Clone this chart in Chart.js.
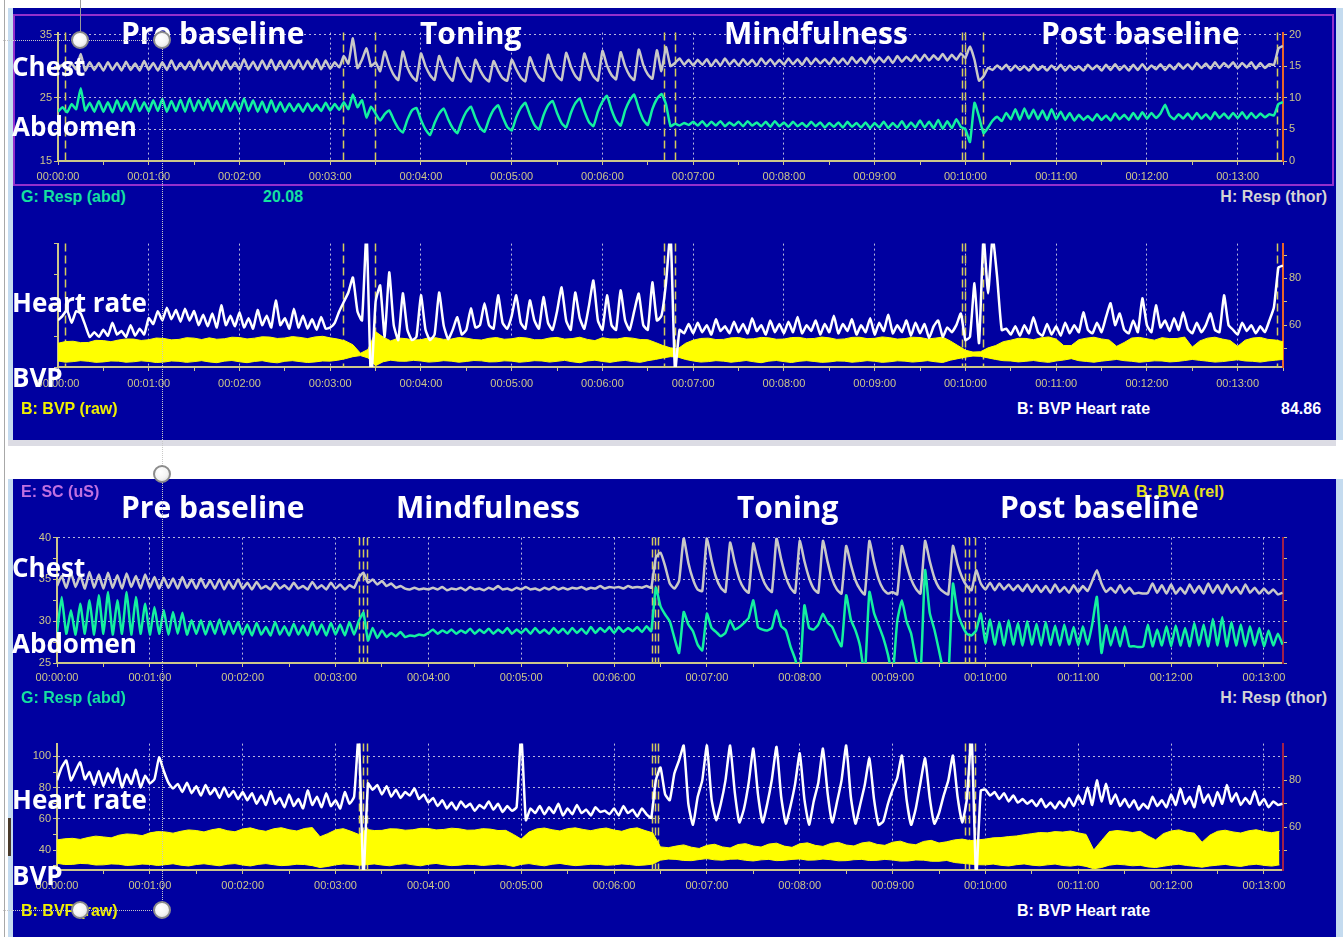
<!DOCTYPE html>
<html>
<head>
<meta charset="utf-8">
<title>Resp / BVP sessions</title>
<script src="https://cdn.jsdelivr.net/npm/chart.js@4.4.1/dist/chart.umd.min.js"></script>
<style>
  body { margin: 0; width: 1343px; height: 937px; overflow: hidden; background: #fff; position: relative; font-family: "Liberation Sans", Arial, sans-serif; }
  .blk { position: absolute; }
  .panel { position: absolute; background: #0000a0; }
  canvas { position: absolute; z-index: 1; }
  .big { position: absolute; z-index: 3; font: 700 30px "Open Sans", sans-serif; line-height: 1; color: #fff; white-space: nowrap; }
  .side { font-size: 26px; }
  .lbl { position: absolute; z-index: 3; font: 700 16px "Liberation Sans", Arial, sans-serif; line-height: 1; white-space: nowrap; }
  .knob { position: absolute; z-index: 4; width: 14px; height: 14px; border-radius: 50%; border: 2px solid #8c8c8c; background: radial-gradient(circle at 40% 35%, #fff 0%, #f4f4f4 55%, #cfcfcf 100%); }
  .dotline { position: absolute; z-index: 4; }
</style>
</head>
<body>
<!-- frame -->
<div class="blk" style="left:4px;top:0;width:1px;height:937px;background:#a8a8a8"></div>
<div class="blk" style="left:8px;top:8px;width:5px;height:432px;background:#c4dbef"></div>
<div class="blk" style="left:8px;top:479px;width:5px;height:458px;background:#c4dbef"></div>
<div class="blk" style="left:1336px;top:8px;width:7px;height:432px;background:#c4dbef"></div>
<div class="blk" style="left:1336px;top:479px;width:7px;height:458px;background:#c4dbef"></div>
<div class="blk" style="left:8px;top:440px;width:1328px;height:6px;background:#dcdce4"></div>
<div class="panel" style="left:13px;top:8px;width:1323px;height:432px"></div>
<div class="panel" style="left:13px;top:479px;width:1323px;height:458px"></div>
<div class="blk" style="left:13px;top:14px;width:1317px;height:168px;border:2px solid #9430cc;z-index:2"></div>
<div class="blk" style="left:8px;top:818px;width:3px;height:38px;background:#4a3a2a"></div>

<canvas id="topResp" width="1320" height="161" style="left:10px;top:24px"></canvas>
<canvas id="topHeart" width="1320" height="158" style="left:10px;top:235px"></canvas>
<canvas id="botResp" width="1320" height="158" style="left:10px;top:529px"></canvas>
<canvas id="botHeart" width="1320" height="161" style="left:10px;top:735px"></canvas>

<!-- session 1 -->
<div class="big" style="left:121px;top:18px">Pre baseline</div>
<div class="big" style="left:420px;top:18px">Toning</div>
<div class="big" style="left:724px;top:18px">Mindfulness</div>
<div class="big" style="left:1041px;top:18px">Post baseline</div>
<div class="big side" style="left:12px;top:53px">Chest</div>
<div class="big side" style="left:12px;top:113px">Abdomen</div>
<div class="big side" style="left:12px;top:289px">Heart rate</div>
<div class="big side" style="left:12px;top:364px">BVP</div>
<div class="lbl" style="left:21px;top:189px;color:#14e0a0">G: Resp (abd)</div>
<div class="lbl" style="left:263px;top:189px;color:#14e0a0">20.08</div>
<div class="lbl" style="right:16px;top:189px;color:#d4d4d4">H: Resp (thor)</div>
<div class="lbl" style="left:21px;top:401px;color:#f0f000">B: BVP (raw)</div>
<div class="lbl" style="left:1017px;top:401px;color:#fff">B: BVP Heart rate</div>
<div class="lbl" style="left:1281px;top:401px;color:#fff">84.86</div>

<!-- session 2 -->
<div class="lbl" style="left:21px;top:484px;color:#c070e0">E: SC (uS)</div>
<div class="lbl" style="left:1136px;top:484px;color:#e8e020">B: BVA (rel)</div>
<div class="big" style="left:121px;top:492px">Pre baseline</div>
<div class="big" style="left:396px;top:492px">Mindfulness</div>
<div class="big" style="left:737px;top:492px">Toning</div>
<div class="big" style="left:1000px;top:492px">Post baseline</div>
<div class="big side" style="left:12px;top:554px">Chest</div>
<div class="big side" style="left:12px;top:630px">Abdomen</div>
<div class="big side" style="left:12px;top:786px">Heart rate</div>
<div class="big side" style="left:12px;top:862px">BVP</div>
<div class="lbl" style="left:21px;top:690px;color:#14e0a0">G: Resp (abd)</div>
<div class="lbl" style="right:16px;top:690px;color:#d4d4d4">H: Resp (thor)</div>
<div class="lbl" style="left:21px;top:903px;color:#f0f000">B: BVP (raw)</div>
<div class="lbl" style="left:1017px;top:903px;color:#fff">B: BVP Heart rate</div>

<!-- selection handles -->
<div class="dotline" style="left:80px;top:0;width:1px;height:32px;background:#9a9a9a"></div>
<div class="dotline" style="left:3px;top:40px;width:159px;border-top:1px dotted #c8c8c8"></div>
<div class="dotline" style="left:162px;top:40px;height:870px;border-left:1px dotted #c8c8c8"></div>
<div class="dotline" style="left:3px;top:910px;width:159px;border-top:1px dotted #c8c8c8"></div>
<div class="knob" style="left:71px;top:31px"></div>
<div class="knob" style="left:153px;top:31px"></div>
<div class="knob" style="left:153px;top:465px"></div>
<div class="knob" style="left:71px;top:901px"></div>
<div class="knob" style="left:153px;top:901px"></div>

<script>
// resp and heart rate sampled every 3 s, BVP envelope every 5 s
const STEP = 3;
const BVP_STEP = 5;

// ---- session 1 (top) ----
const topTimeMax = 810;
const topMarks = [4.5, 188.5, 209.5, 401, 408, 597.5, 599.5, 611.5, 806];

const topChest = [
  29.6, 30.2, 29.4, 30.4, 29.5, 31.9, 29.3, 30.6, 29.4, 30.5,
  29.3, 30.6, 29.4, 30.5, 29.3, 30.7, 29.4, 30.4, 29.3, 30.8,
  29.4, 30.5, 29.3, 30.6, 29.4, 30.9, 29.4, 30.5, 29.5, 30.7,
  29.4, 31.0, 29.5, 30.6, 29.3, 30.8, 29.4, 30.9, 29.5, 30.6,
  29.4, 31.1, 29.5, 30.7, 29.4, 30.9, 29.5, 31.0, 29.4, 30.8,
  29.5, 30.9, 29.6, 31.0, 29.5, 30.8, 29.6, 31.1, 29.5, 30.9,
  29.6, 30.6, 29.8, 31.6, 30.4, 34.4, 29.7, 31.0, 32.8, 30.0,
  30.6, 29.2, 32.3, 30.2, 28.6, 27.8, 32.3, 29.8, 28.4, 27.7,
  32.0, 30.0, 28.6, 27.8, 31.6, 29.8, 28.5, 27.7, 31.3, 29.6,
  28.3, 27.6, 31.0, 29.4, 28.2, 27.6, 30.8, 29.3, 28.1, 27.7,
  31.0, 29.5, 28.2, 27.6, 31.4, 29.6, 28.3, 27.7, 31.8, 29.8,
  28.4, 27.8, 32.1, 30.0, 28.5, 27.8, 32.0, 29.9, 28.4, 27.7,
  32.4, 30.1, 28.6, 27.9, 32.2, 30.0, 28.5, 27.8, 32.6, 30.2,
  28.7, 28.0, 32.5, 29.2, 33.0, 30.0, 30.5, 31.2, 30.2, 31.0,
  30.1, 31.0, 30.2, 31.1, 30.0, 31.0, 30.1, 31.2, 30.2, 31.0,
  30.1, 31.1, 30.2, 31.0, 30.1, 31.2, 30.3, 31.1, 30.2, 31.0,
  30.2, 31.2, 30.3, 31.1, 30.2, 31.3, 30.3, 31.2, 30.4, 31.1,
  30.3, 31.3, 30.4, 31.2, 30.3, 31.4, 30.5, 31.3, 30.4, 31.5,
  30.5, 31.4, 30.6, 31.5, 30.5, 31.6, 30.7, 31.5, 30.8, 31.7,
  30.8, 31.8, 30.9, 31.7, 31.0, 31.9, 30.9, 31.8, 31.0, 32.0,
  31.3, 33.1, 31.0, 27.7, 28.4, 29.7, 29.4, 30.1, 29.5, 30.2,
  29.3, 30.1, 29.4, 30.0, 29.3, 30.2, 29.4, 30.0, 29.3, 30.1,
  29.4, 30.2, 29.3, 30.1, 29.4, 30.0, 29.3, 30.2, 29.5, 30.1,
  29.3, 30.2, 29.4, 30.3, 29.4, 30.1, 29.3, 30.2, 29.4, 30.3,
  29.4, 30.1, 29.5, 30.3, 29.4, 30.2, 29.5, 30.4, 29.6, 30.3,
  29.5, 30.5, 29.7, 30.4, 29.6, 30.6, 29.7, 30.5, 29.8, 30.6,
  29.7, 30.5, 29.8, 30.6, 29.6, 30.5, 29.7, 30.3, 30.2, 32.8,
  33.2
];

const topAbdomen = [
  22.8, 23.5, 22.7, 24.0, 23.2, 26.5, 23.0, 24.2, 22.8, 24.5,
  22.8, 24.3, 22.7, 24.6, 22.9, 24.4, 22.8, 24.7, 22.9, 24.3,
  22.8, 24.6, 22.9, 24.8, 22.8, 24.5, 22.9, 24.7, 22.8, 24.9,
  22.9, 24.6, 23.0, 24.8, 22.9, 24.5, 22.8, 24.7, 22.9, 24.4,
  22.8, 24.9, 22.9, 24.6, 22.8, 24.4, 22.7, 24.6, 22.8, 24.3,
  22.8, 24.1, 22.9, 24.0, 22.8, 24.1, 22.9, 23.9, 22.9, 24.2,
  23.0, 24.0, 23.1, 24.3, 23.2, 25.5, 23.5, 24.6, 21.9, 23.6,
  22.5, 21.4, 22.4, 23.0, 21.5, 20.2, 19.5, 21.5, 23.0, 23.4,
  21.5, 20.0, 19.1, 21.0, 22.5, 23.3, 21.6, 20.2, 19.4, 21.3,
  22.8, 23.6, 21.8, 20.3, 19.6, 21.6, 23.1, 23.8, 22.0, 20.4,
  19.8, 21.9, 23.4, 24.2, 22.3, 20.7, 20.0, 22.2, 23.8, 24.5,
  22.6, 21.0, 20.3, 22.5, 24.1, 24.9, 22.9, 21.2, 20.5, 22.8,
  24.4, 25.3, 23.1, 21.4, 20.6, 23.0, 24.6, 25.5, 23.3, 21.5,
  20.7, 23.2, 24.8, 25.6, 24.0, 20.5, 20.9, 20.6, 21.0, 20.7,
  21.2, 20.6, 21.3, 20.5, 21.2, 20.6, 21.3, 20.5, 21.1, 20.6,
  21.2, 20.5, 21.3, 20.6, 21.1, 20.5, 21.2, 20.4, 21.3, 20.5,
  21.1, 20.4, 21.2, 20.5, 21.0, 20.4, 21.2, 20.5, 21.1, 20.3,
  21.0, 20.4, 21.1, 20.3, 21.2, 20.4, 21.0, 20.3, 21.1, 20.2,
  21.0, 20.3, 21.2, 20.2, 21.0, 20.3, 21.3, 20.2, 21.1, 20.3,
  21.4, 20.3, 21.2, 20.2, 21.5, 20.1, 21.3, 20.2, 21.6, 20.4,
  20.0, 18.0, 24.2, 22.0, 19.4, 20.3, 21.4, 22.0, 21.3, 22.6,
  21.6, 23.2, 21.5, 23.3, 21.7, 23.1, 21.6, 23.0, 21.5, 23.2,
  21.6, 22.8, 21.5, 22.6, 21.4, 22.3, 21.5, 22.1, 21.4, 22.4,
  21.5, 22.2, 21.4, 22.5, 21.6, 22.3, 21.5, 22.6, 21.6, 22.7,
  21.7, 22.6, 21.8, 22.5, 23.9, 22.2, 21.6, 22.4, 21.7, 22.5,
  21.6, 22.6, 21.7, 22.4, 21.6, 22.7, 21.8, 22.5, 21.7, 22.6,
  21.8, 22.7, 21.7, 22.6, 21.8, 22.5, 21.9, 22.4, 22.2, 24.0,
  24.3
];

const topHeartRate = [
  62.1, 64.0, 66.4, 61.0, 66.0, 65.0, 60.0, 54.9, 57.0, 55.0,
  58.0, 55.5, 61.0, 56.0, 57.5, 55.0, 60.0, 55.5, 58.5, 56.0,
  63.0, 60.5, 66.0, 62.0, 67.5, 62.5, 66.5, 61.5, 67.0, 62.0,
  66.0, 60.0, 64.5, 59.5, 65.0, 59.0, 68.5, 60.0, 64.0, 59.5,
  65.5, 59.0, 63.0, 58.5, 66.5, 60.0, 64.0, 59.0, 70.6, 60.0,
  63.0, 58.5, 67.0, 59.0, 64.0, 58.5, 62.5, 58.0, 63.5, 58.5,
  59.0, 61.0, 66.0, 70.0, 74.0, 80.4, 66.0, 62.0, 100, 35.0,
  70.0, 77.0, 55.0, 82.6, 60.0, 53.6, 73.6, 58.0, 53.6, 55.0,
  72.8, 58.0, 53.6, 56.0, 74.0, 60.0, 54.0, 58.0, 63.4, 56.0,
  58.0, 67.2, 59.0, 60.0, 69.4, 60.0, 58.5, 72.8, 61.0, 58.5,
  64.0, 72.8, 61.0, 58.5, 70.6, 62.0, 58.5, 72.0, 61.0, 58.0,
  66.0, 76.2, 62.0, 58.0, 74.0, 63.0, 58.5, 68.0, 79.1, 62.0,
  58.0, 72.8, 60.0, 58.0, 74.9, 62.0, 58.0, 66.0, 73.5, 60.0,
  58.0, 78.3, 62.0, 64.0, 77.9, 100, 40.0, 58.0, 56.5, 60.5,
  56.5, 61.0, 57.0, 60.0, 56.0, 62.5, 57.5, 59.5, 56.5, 61.5,
  57.0, 60.5, 56.5, 63.0, 57.5, 60.0, 56.0, 62.0, 57.0, 60.5,
  56.5, 61.5, 57.0, 63.5, 56.5, 60.0, 57.5, 62.0, 56.0, 60.5,
  57.0, 64.0, 56.5, 60.5, 57.5, 62.5, 56.0, 60.0, 57.0, 63.0,
  56.0, 61.0, 57.5, 64.5, 56.5, 60.0, 57.0, 62.0, 55.5, 61.0,
  56.5, 60.5, 54.5, 59.5, 62.0, 55.0, 59.0, 57.0, 60.0, 65.0,
  53.6, 55.0, 77.9, 52.3, 98.0, 73.6, 98.0, 80.4, 57.9, 58.5,
  56.0, 59.5, 55.5, 60.0, 56.5, 63.4, 57.0, 55.5, 60.5, 56.0,
  59.5, 55.5, 61.0, 56.5, 60.0, 57.0, 65.5, 58.0, 56.5, 61.0,
  57.0, 63.5, 69.4, 60.0, 65.0, 58.0, 56.5, 62.0, 57.0, 71.5,
  60.0, 57.0, 68.5, 59.0, 62.0, 57.5, 63.0, 58.0, 65.5, 58.5,
  56.5, 61.0, 57.0, 60.0, 65.0, 58.0, 57.0, 72.8, 60.0, 58.0,
  56.0, 61.0, 57.5, 60.0, 56.5, 59.5, 57.0, 62.0, 67.7, 84.7,
  85.5
];

const topBvpHigh = [
  42.5, 43.6, 43.8, 42.9, 43.0, 44.4, 44.2, 43.5, 44.6, 45.3,
  45.2, 44.3, 44.8, 45.9, 45.6, 44.7, 45.0, 46.1, 45.8, 44.9,
  46.0, 45.1, 45.4, 46.4, 46.2, 45.3, 45.8, 46.7, 46.5, 45.6,
  45.9, 46.8, 46.3, 45.5, 46.6, 47.0, 46.0, 45.2, 44.0, 41.5,
  36.0, 38.5, 50.0, 46.5, 44.0, 45.9, 45.5, 44.6, 44.8, 46.0,
  46.0, 45.0, 45.2, 46.2, 45.8, 44.9, 44.6, 45.7, 46.2, 45.1,
  45.4, 46.3, 45.9, 44.8, 44.8, 45.9, 46.3, 45.2, 45.5, 46.4,
  45.0, 44.2, 46.1, 45.3, 45.3, 46.2, 45.8, 44.9, 44.8, 43.0,
  41.0, 39.5, 39.0, 42.5, 44.5, 45.6, 45.8, 44.9, 45.0, 46.0,
  46.2, 45.2, 45.4, 46.3, 46.0, 45.1, 45.2, 46.2, 46.3, 45.4,
  45.6, 46.5, 46.0, 45.0, 45.3, 46.3, 46.4, 45.5, 45.7, 46.6,
  46.1, 45.2, 45.5, 46.4, 46.2, 45.3, 45.8, 46.5, 44.0, 41.0,
  38.0, 36.8, 37.0, 39.5, 41.0, 43.5, 44.5, 45.7, 45.6, 44.8,
  46.0, 46.6, 45.2, 41.0, 41.0, 44.8, 45.8, 46.4, 45.3, 44.6,
  40.5, 43.0, 45.9, 46.3, 45.4, 44.5, 46.1, 45.5, 45.6, 46.5,
  40.0, 44.0, 45.8, 46.4, 45.2, 44.3, 40.5, 44.5, 45.9, 46.3,
  45.0, 44.6, 43.5
];

const topBvpLow = [
  31.0, 30.2, 30.6, 31.2, 30.8, 30.1, 30.4, 31.0, 30.9, 30.2,
  30.5, 31.1, 30.7, 30.0, 30.3, 31.0, 30.8, 30.1, 30.6, 31.2,
  30.4, 29.9, 30.9, 31.3, 30.5, 29.9, 30.7, 31.2, 30.3, 29.8,
  30.8, 31.2, 30.6, 30.0, 30.4, 31.0, 30.9, 31.5, 32.5, 33.8,
  34.5, 33.0, 28.0, 30.5, 31.5, 30.9, 30.8, 31.4, 31.0, 30.3,
  30.6, 31.2, 30.9, 30.2, 30.7, 31.3, 31.1, 30.4, 30.5, 31.1,
  30.9, 30.2, 30.6, 31.2, 31.0, 30.3, 30.8, 31.4, 30.5, 29.9,
  31.0, 31.5, 30.7, 30.1, 30.9, 31.4, 30.6, 30.1, 31.2, 32.0,
  33.0, 33.8, 33.5, 32.0, 31.0, 30.3, 30.6, 31.2, 30.9, 30.2,
  30.7, 31.3, 30.5, 29.9, 30.9, 31.3, 30.6, 30.0, 30.8, 31.2,
  30.7, 30.1, 30.4, 31.0, 30.9, 30.2, 30.6, 31.2, 30.8, 30.1,
  30.5, 31.1, 30.9, 30.3, 30.7, 31.2, 30.5, 30.0, 31.5, 32.5,
  33.5, 34.2, 34.0, 33.0, 32.0, 31.2, 31.0, 30.4, 30.8, 31.3,
  30.6, 30.1, 31.0, 31.6, 32.5, 31.2, 30.7, 30.2, 30.9, 31.4,
  32.0, 31.2, 30.8, 30.2, 30.6, 31.1, 31.0, 30.4, 30.7, 31.3,
  32.0, 31.4, 30.9, 30.3, 30.6, 31.2, 31.8, 31.0, 30.8, 30.3,
  31.0, 31.5, 32.0
];

// ---- session 2 (bottom) ----
const botTimeMax = 792.3;
const botMarks = [195, 197.5, 200.5, 384.5, 386.5, 388.5, 586.5, 589.5, 593];

const botChest = [
  34.2, 35.4, 34.0, 35.8, 34.1, 35.5, 33.9, 35.9, 34.0, 35.6,
  33.9, 35.8, 34.0, 35.5, 33.9, 35.7, 34.1, 35.4, 33.9, 35.6,
  34.0, 35.3, 33.9, 35.2, 34.0, 35.1, 33.9, 35.3, 34.0, 35.0,
  33.9, 35.1, 34.0, 34.9, 33.9, 35.0, 33.8, 34.8, 33.9, 35.0,
  33.9, 34.6, 33.8, 34.7, 33.9, 34.2, 33.8, 34.6, 33.9, 34.3,
  33.8, 34.6, 33.9, 34.2, 33.8, 34.7, 33.9, 34.3, 33.8, 34.6,
  33.9, 34.4, 33.8, 34.3, 34.0, 35.2, 35.8, 34.6, 35.0, 34.4,
  34.8, 34.2, 34.5, 34.0, 34.2, 33.9, 33.8, 34.0, 33.8, 33.9,
  33.8, 34.0, 33.8, 34.1, 33.7, 33.9, 33.8, 34.0, 33.7, 34.1,
  33.8, 33.9, 33.7, 34.0, 33.8, 34.2, 33.8, 33.9, 33.7, 34.0,
  33.8, 34.1, 33.8, 33.9, 33.7, 34.0, 33.8, 34.1, 33.8, 34.0,
  33.8, 34.0, 33.9, 34.1, 33.8, 34.0, 33.9, 34.2, 33.9, 34.1,
  34.0, 34.1, 33.9, 34.2, 34.0, 34.1, 34.0, 34.2, 34.0, 37.6,
  38.2, 36.6, 34.5, 33.9, 34.8, 39.9, 37.0, 35.0, 33.8, 33.6,
  40.0, 37.3, 35.2, 34.0, 33.5, 39.4, 37.0, 35.0, 33.9, 33.4,
  39.3, 37.0, 35.1, 34.0, 33.5, 39.9, 37.4, 35.3, 34.0, 33.4,
  39.6, 37.2, 35.2, 33.9, 33.4, 39.6, 37.1, 35.0, 33.8, 33.3,
  39.0, 36.8, 34.9, 33.8, 33.2, 39.6, 37.1, 35.0, 33.8, 33.3,
  33.5, 33.2, 39.0, 36.8, 35.0, 33.9, 33.3, 39.6, 37.2, 35.2,
  34.0, 33.5, 33.2, 39.0, 36.8, 35.2, 34.2, 33.7, 36.1, 34.5,
  33.8, 34.6, 33.7, 34.5, 33.8, 34.4, 33.7, 34.3, 33.6, 34.4,
  33.5, 34.3, 33.5, 34.2, 33.4, 34.4, 33.5, 34.1, 33.4, 34.3,
  33.5, 34.2, 33.6, 34.8, 36.1, 34.5, 33.5, 34.0, 33.4, 34.3,
  33.4, 34.0, 33.3, 33.4, 33.3, 33.4, 34.5, 33.4, 34.3, 33.3,
  34.4, 33.3, 34.0, 33.3, 34.4, 33.4, 34.2, 33.3, 34.5, 33.4,
  34.3, 33.3, 34.4, 33.4, 34.1, 33.3, 34.4, 33.4, 34.0, 33.3,
  33.9, 33.3, 33.8, 33.2, 33.4
];

const botAbdomen = [
  28.6, 32.9, 28.5, 31.3, 28.4, 32.1, 28.5, 32.5, 28.4, 33.1,
  28.5, 33.5, 28.4, 32.5, 28.5, 33.5, 28.4, 32.9, 28.5, 32.1,
  28.4, 31.7, 28.5, 31.3, 28.4, 31.1, 28.5, 31.0, 28.4, 30.1,
  28.5, 30.1, 28.4, 30.0, 28.5, 30.2, 28.4, 30.0, 28.5, 29.9,
  28.4, 29.6, 28.3, 29.8, 28.4, 29.3, 28.3, 29.9, 28.4, 29.4,
  28.3, 29.7, 28.4, 29.5, 28.3, 29.9, 28.4, 29.6, 28.3, 29.8,
  28.4, 29.6, 28.3, 29.9, 28.4, 30.0, 31.0, 27.7, 29.2, 28.0,
  28.9, 28.1, 28.6, 28.2, 28.7, 28.1, 28.3, 28.2, 28.4, 28.3,
  28.6, 29.0, 28.5, 28.9, 28.6, 29.0, 28.5, 28.9, 28.6, 29.1,
  28.5, 29.0, 28.6, 29.1, 28.5, 29.0, 28.6, 29.2, 28.5, 29.0,
  28.6, 29.1, 28.5, 29.2, 28.6, 29.0, 28.5, 29.2, 28.6, 29.1,
  28.5, 29.2, 28.6, 29.1, 28.5, 29.3, 28.6, 29.2, 28.7, 29.3,
  28.6, 29.3, 28.7, 29.2, 28.8, 29.3, 28.7, 29.4, 28.8, 34.0,
  31.8, 30.8, 30.0, 28.0, 26.2, 31.1, 29.6, 28.8, 27.2, 26.5,
  30.9, 29.2, 28.7, 28.2, 28.6, 30.1, 29.0, 29.3, 29.8, 30.4,
  32.5, 29.3, 29.0, 28.9, 29.2, 31.3, 29.4, 28.9, 27.0, 25.5,
  23.5, 31.9, 29.2, 29.0, 29.6, 30.9, 29.8, 29.3, 28.0, 27.0,
  33.1, 30.2, 28.9, 27.0, 23.5, 33.5, 31.0, 29.5, 28.0, 26.0,
  23.5, 30.0, 32.5, 30.0, 28.5, 25.5, 23.5, 36.1, 31.0, 29.0,
  26.5, 24.0, 23.5, 34.5, 31.0, 29.5, 28.5, 28.3, 28.9, 30.9,
  27.4, 30.2, 27.2, 29.9, 27.1, 30.1, 27.2, 29.8, 27.1, 30.0,
  27.2, 29.7, 27.1, 29.9, 27.2, 29.5, 27.1, 29.6, 27.2, 29.3,
  27.1, 29.4, 27.2, 29.6, 32.9, 26.2, 29.5, 27.1, 29.3, 27.0,
  29.4, 27.0, 27.0, 26.9, 27.0, 29.6, 27.0, 29.0, 27.1, 29.4,
  27.0, 29.5, 27.1, 29.2, 27.0, 29.8, 27.1, 29.6, 27.0, 30.3,
  27.1, 30.5, 27.0, 29.9, 27.1, 29.6, 27.0, 29.4, 27.1, 29.2,
  27.0, 28.9, 27.1, 28.5, 27.2
];

const botHeartRate = [
  80.0, 85.5, 88.5, 80.0, 84.0, 87.7, 80.5, 83.5, 78.0, 84.0,
  77.5, 83.0, 79.0, 85.0, 77.0, 82.5, 78.5, 84.5, 77.0, 82.0,
  78.7, 80.5, 89.8, 84.0, 79.0, 76.5, 78.5, 75.0, 79.0, 74.5,
  77.5, 73.5, 78.0, 74.0, 76.5, 72.5, 77.0, 73.0, 75.5, 72.0,
  75.0, 71.5, 74.5, 70.0, 73.5, 69.5, 75.5, 70.0, 72.5, 68.5,
  74.0, 69.0, 72.0, 68.0, 75.7, 69.5, 73.0, 68.5, 74.5, 69.0,
  71.5, 68.0, 75.0, 70.0, 73.0, 100, 38.0, 78.7, 76.0, 78.0,
  74.0, 77.5, 73.0, 76.0, 72.5, 75.0, 73.5, 76.5, 72.0, 74.0,
  70.5, 72.5, 69.0, 71.5, 68.0, 70.5, 67.5, 71.0, 68.5, 70.0,
  67.0, 69.5, 68.0, 71.0, 67.5, 70.0, 66.5, 69.0, 67.0, 68.5,
  100, 63.0, 68.0, 66.0, 69.0, 65.5, 68.5, 66.0, 70.0, 65.0,
  68.0, 65.5, 69.5, 66.0, 67.5, 65.0, 68.5, 66.5, 67.0, 65.5,
  68.0, 65.0, 69.0, 66.0, 67.5, 64.5, 68.0, 65.5, 64.0, 80.0,
  85.5, 74.0, 71.5, 83.0, 88.5, 94.9, 70.0, 61.0, 72.8, 80.0,
  94.9, 72.0, 63.0, 70.0, 80.0, 94.9, 75.0, 62.0, 68.0, 79.0,
  93.6, 74.0, 62.0, 70.0, 80.5, 94.3, 73.0, 61.5, 69.0, 78.5,
  91.6, 72.0, 61.0, 71.0, 79.0, 93.6, 74.5, 62.0, 70.5, 80.0,
  94.9, 73.0, 61.5, 69.5, 78.0, 89.4, 72.0, 61.0, 62.5, 70.0,
  76.0, 81.0, 90.6, 72.0, 61.0, 68.0, 79.0, 89.4, 72.5, 61.5,
  66.0, 73.5, 80.0, 90.6, 73.0, 62.0, 72.0, 100, 38.0, 75.7,
  76.0, 73.5, 75.0, 72.0, 74.5, 71.0, 73.5, 70.5, 72.0, 70.0,
  71.5, 69.0, 72.0, 68.5, 70.5, 68.0, 71.0, 68.5, 72.5, 69.0,
  73.5, 70.0, 77.0, 69.5, 80.0, 71.0, 78.5, 70.0, 74.0, 69.0,
  72.0, 68.5, 71.5, 67.5, 70.0, 68.0, 73.0, 69.0, 71.5, 68.5,
  74.0, 69.5, 76.5, 70.0, 73.0, 68.5, 77.5, 70.5, 74.0, 69.0,
  75.0, 70.0, 78.0, 71.0, 74.5, 69.5, 72.5, 70.0, 75.5, 69.5,
  72.0, 68.5, 71.0, 69.5, 70.0
];

const botBvpHigh = [
  46.5, 47.2, 47.5, 46.8, 48.0, 48.9, 48.4, 47.8, 49.5, 50.3,
  50.0, 49.2, 51.0, 51.8, 51.6, 50.8, 52.0, 52.9, 52.5, 51.6,
  53.0, 53.8, 52.4, 51.7, 53.5, 54.2, 52.8, 52.0, 53.6, 54.3,
  53.0, 52.2, 53.8, 54.4, 48.5, 50.5, 52.9, 53.7, 52.0, 50.0,
  53.2, 52.5, 52.6, 53.6, 53.5, 52.7, 53.0, 53.9, 53.8, 52.9,
  53.2, 54.0, 53.6, 52.7, 52.8, 53.7, 53.4, 52.5, 52.6, 50.0,
  47.0, 51.5, 53.5, 54.1, 53.0, 52.2, 53.7, 54.2, 53.2, 52.4,
  53.5, 54.1, 52.8, 52.0, 53.6, 54.2, 52.5, 51.0, 42.0, 41.5,
  42.5, 43.3, 41.8, 41.0, 43.0, 43.7, 42.0, 41.3, 43.5, 44.1,
  42.6, 41.9, 43.8, 44.4, 42.5, 41.7, 44.0, 44.6, 43.0, 42.3,
  44.2, 44.9, 43.2, 42.6, 44.5, 45.2, 43.6, 43.0, 45.0, 45.7,
  44.0, 43.4, 45.5, 46.2, 44.5, 45.3, 46.5, 47.0, 46.0, 46.5,
  47.0, 47.8, 48.0, 48.6, 49.0, 49.8, 50.5, 51.2, 51.0, 51.8,
  51.5, 52.2, 51.0, 50.0, 40.0, 46.0, 51.8, 52.5, 52.0, 51.2,
  52.0, 49.0, 46.5, 50.5, 52.2, 52.9, 51.5, 50.8, 45.0, 49.5,
  52.0, 52.7, 51.6, 50.9, 52.3, 53.0, 51.8, 51.1, 52.0
];

const botBvpLow = [
  31.5, 30.7, 30.8, 31.4, 31.2, 30.4, 30.5, 31.1, 30.9, 30.1,
  30.4, 31.0, 30.8, 30.1, 30.6, 31.2, 30.3, 29.8, 30.7, 31.2,
  30.5, 29.9, 30.9, 31.3, 30.4, 29.8, 30.8, 31.3, 30.6, 30.0,
  30.3, 30.9, 30.7, 30.0, 28.8, 29.5, 30.5, 31.1, 30.8, 30.2,
  30.6, 31.1, 30.4, 29.9, 30.8, 31.3, 30.5, 29.9, 30.9, 31.4,
  30.6, 30.0, 30.3, 30.9, 30.7, 30.1, 30.5, 31.0, 30.5, 29.5,
  30.8, 31.3, 30.5, 29.9, 30.9, 31.4, 30.6, 30.0, 30.4, 30.9,
  30.8, 30.2, 30.5, 31.1, 30.7, 30.1, 30.4, 31.0, 33.5, 34.2,
  34.0, 33.3, 33.2, 33.9, 34.5, 33.7, 33.5, 34.1, 34.2, 33.4,
  33.0, 33.7, 34.0, 33.2, 33.4, 34.0, 34.3, 33.5, 33.6, 34.2,
  33.8, 33.1, 33.2, 33.8, 34.0, 33.3, 33.4, 34.0, 33.6, 32.9,
  33.0, 33.6, 33.5, 32.8, 32.8, 33.3, 32.0, 31.5, 31.0, 30.6,
  30.5, 31.0, 30.2, 29.8, 30.6, 31.1, 30.3, 29.9, 30.5, 31.0,
  30.1, 29.7, 30.4, 29.5, 28.0, 28.8, 30.3, 30.9, 30.5, 29.9,
  30.2, 29.2, 28.8, 29.6, 30.4, 30.9, 30.1, 29.6, 29.0, 29.8,
  30.3, 30.8, 30.0, 29.5, 30.4, 30.9, 30.2, 29.7, 30.5
];

const KHAKI = "#cdc68a";
const MARK = "#d4cb5c";
const DOTS = "rgba(230,230,235,0.8)";
const GREEN = "#14f0a0";
const GRAY = "#c8c8c8";
const YELLOW = "#ffff00";

Chart.defaults.font.family = '"Liberation Sans", Arial, sans-serif';
Chart.defaults.font.size = 11;

function points(values, step) {
  return values.map((v, i) => ({ x: i * step, y: v }));
}

function clock(sec) {
  const m = Math.floor(sec / 60);
  const s = Math.round(sec % 60);
  return "00:" + String(m).padStart(2, "0") + ":" + String(s).padStart(2, "0");
}

const has = (list, v) => list.some((l) => Math.abs(l - v) < 1e-6);
const isMinute = (v) => Math.abs(v / 60 - Math.round(v / 60)) < 1e-6;

// dashed phase markers, placed through the x scale
const phaseLines = {
  id: "phaseLines",
  beforeDatasetsDraw(chart, args, opts) {
    const { ctx, chartArea, scales } = chart;
    ctx.save();
    ctx.strokeStyle = MARK;
    ctx.lineWidth = 1.5;
    ctx.setLineDash([8, 4]);
    for (const t of opts.times) {
      const x = Math.round(scales.x.getPixelForValue(t)) + 0.5;
      ctx.beginPath();
      ctx.moveTo(x, chartArea.top);
      ctx.lineTo(x, chartArea.bottom);
      ctx.stroke();
    }
    ctx.restore();
  },
};

function timeAxis(max, height, pad) {
  return {
    type: "linear",
    min: 0,
    max: max,
    afterFit: (s) => { s.height = height; },
    // a tick every 30 s, labelled every minute
    afterBuildTicks: (s) => {
      const list = [];
      for (let t = 0; t <= max; t += 30) list.push({ value: t });
      s.ticks = list;
    },
    ticks: {
      autoSkip: false,
      maxRotation: 0,
      minRotation: 0,
      color: KHAKI,
      padding: pad,
      callback: (v) => (isMinute(v) ? clock(v) : ""),
    },
    grid: {
      color: (c) => (c.tick && c.tick.value > 0 && isMinute(c.tick.value) ? DOTS : "transparent"),
      borderDash: [2, 3],
      tickColor: KHAKI,
      tickLength: 4,
    },
    border: { color: KHAKI, width: 2, dash: [2, 3] },
  };
}

function valueAxis(o) {
  return {
    type: "linear",
    position: o.position,
    min: o.min,
    max: o.max,
    afterFit: (s) => { s.width = o.width; },
    ticks: {
      stepSize: o.step,
      includeBounds: false,
      color: KHAKI,
      padding: 2,
      callback: (v) => (has(o.labels, v) ? v : ""),
    },
    grid: {
      drawOnChartArea: o.grid.length > 0,
      color: (c) => (c.tick && has(o.grid, c.tick.value) ? DOTS : "transparent"),
      borderDash: [2, 3],
      tickColor: KHAKI,
      tickLength: 4,
    },
    border: { color: o.border, width: 2, dash: [2, 3] },
  };
}

function drawChart(id, cfg) {
  new Chart(document.getElementById(id), {
    type: "line",
    data: { datasets: cfg.datasets },
    options: {
      responsive: false,
      animation: false,
      devicePixelRatio: 1,
      layout: { padding: { top: 8, left: 0, right: 0, bottom: 0 } },
      elements: { point: { radius: 0 }, line: { tension: 0.15, borderWidth: 2.5 } },
      plugins: {
        legend: { display: false },
        tooltip: { enabled: false },
        phaseLines: { times: cfg.marks },
      },
      scales: {
        x: timeAxis(cfg.xMax, cfg.xHeight, cfg.xPad),
        y: valueAxis(cfg.left),
        y2: valueAxis(cfg.right),
      },
    },
    plugins: [phaseLines],
  });
}

function respSets(abd, chest) {
  return [
    { label: "Abdomen", data: points(abd, STEP), borderColor: GREEN, yAxisID: "y" },
    { label: "Chest", data: points(chest, STEP), borderColor: GRAY, yAxisID: "y" },
  ];
}

function heartSets(hr, hi, lo) {
  return [
    { label: "Heart rate", data: points(hr, STEP), borderColor: "#ffffff", yAxisID: "y2" },
    { label: "BVP", data: points(hi, BVP_STEP), borderColor: YELLOW, backgroundColor: YELLOW, borderWidth: 1, tension: 0, fill: "+1", yAxisID: "y" },
    { label: "BVP low", data: points(lo, BVP_STEP), borderColor: YELLOW, borderWidth: 1, tension: 0, fill: false, yAxisID: "y" },
  ];
}

drawChart("topResp", {
  datasets: respSets(topAbdomen, topChest),
  marks: topMarks, xMax: topTimeMax, xHeight: 24, xPad: 5,
  left: { position: "left", width: 48, min: 15, max: 35.3, step: 5, labels: [15, 25, 35], grid: [20, 25, 30, 35], border: KHAKI },
  right: { position: "right", width: 47, min: 0, max: 20.3, step: 5, labels: [0, 5, 10, 15, 20], grid: [], border: "#e8642a" },
});

drawChart("topHeart", {
  datasets: heartSets(topHeartRate, topBvpHigh, topBvpLow),
  marks: topMarks, xMax: topTimeMax, xHeight: 26, xPad: 6,
  left: { position: "left", width: 48, min: 27.1, max: 107.1, step: 10, labels: [40, 60, 80, 100], grid: [40, 60, 80, 100], border: KHAKI },
  right: { position: "right", width: 47, min: 42.1, max: 94.9, step: 10, labels: [60, 80], grid: [], border: "#e8642a" },
});

drawChart("botResp", {
  datasets: respSets(botAbdomen, botChest),
  marks: botMarks, xMax: botTimeMax, xHeight: 24, xPad: 4,
  left: { position: "left", width: 47, min: 25, max: 40, step: 2.5, labels: [25, 30, 35, 40], grid: [30, 35, 40], border: KHAKI },
  right: { position: "right", width: 47, min: 3, max: 18, step: 2.5, labels: [5, 10, 15], grid: [], border: "#a0204c" },
});

drawChart("botHeart", {
  datasets: heartSets(botHeartRate, botBvpHigh, botBvpLow),
  marks: botMarks, xMax: botTimeMax, xHeight: 26, xPad: 5,
  left: { position: "left", width: 47, min: 27.2, max: 108.2, step: 10, labels: [40, 60, 80, 100], grid: [40, 60, 80, 100], border: KHAKI },
  right: { position: "right", width: 47, min: 41.7, max: 95.7, step: 10, labels: [60, 80], grid: [], border: "#a0204c" },
});
</script>
</body>
</html>
